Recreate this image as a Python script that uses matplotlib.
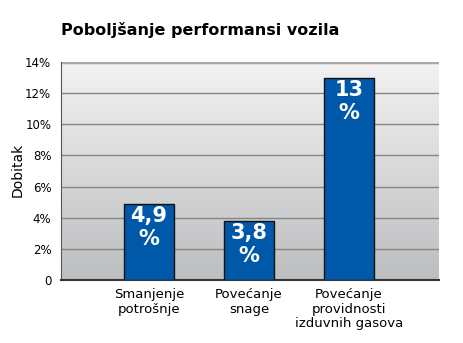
import numpy as np
import matplotlib.pyplot as plt
from matplotlib.colors import LinearSegmentedColormap

categories = ['Smanjenje\npotrošnje', 'Povećanje\nsnage', 'Povećanje\nprovidnosti\nizduvnih gasova']
values = [4.9, 3.8, 13.0]
bar_labels = ['4,9\n%', '3,8\n%', '13\n%']
yticks = [0, 2, 4, 6, 8, 10, 12, 14]
ytick_labels = ['0', '2%', '4%', '6%', '8%', '10%', '12%', '14%']

fig = plt.figure(figsize=(4.64, 3.43), dpi=100)
ax = fig.add_axes([61/464, 1 - 280/343, 378/464, 218/343])

x = np.arange(len(categories))
ax.set_xlim(-0.88, 2.9)
ax.set_ylim(0, 14)

# gradient background
grad = np.linspace(0, 1, 256).reshape(-1, 1)
cmap = LinearSegmentedColormap.from_list('g', ['#bdbec0', '#f2f2f2'])
ax.imshow(grad, extent=[-0.88, 2.9, 0, 14], aspect='auto', origin='lower',
          cmap=cmap, zorder=0)

for t in yticks[1:-1]:
    ax.axhline(t, color='#858585', lw=1, zorder=1)
ax.axhline(14, color='#a8a8a8', lw=2.5, zorder=1)

bars = ax.bar(x, values, width=0.5, color='#0058a9', edgecolor='#111111', lw=1, zorder=3)
for b, lab in zip(bars, bar_labels):
    ax.text(b.get_x() + b.get_width()/2, b.get_height() - 0.15, lab, color='white',
            ha='center', va='top', fontsize=15, fontweight='bold', linespacing=1.2, zorder=4)

ax.set_yticks(yticks)
ax.set_yticklabels(ytick_labels, fontsize=8.5)
ax.set_xticks(x)
ax.set_xticklabels(categories, fontsize=9.5, linespacing=1.15)
ax.tick_params(axis='both', length=0)
ax.tick_params(axis='x', pad=6)
ax.tick_params(axis='y', pad=7)
for s in ['top', 'right']:
    ax.spines[s].set_visible(False)
ax.spines['left'].set_color('#555555')
ax.spines['bottom'].set_color('#333333')
ax.spines['bottom'].set_linewidth(1.5)

fig.text(18/464, 1 - 170/343, 'Dobitak', fontsize=10, rotation=90, ha='center', va='center')
fig.text(61/464, 1 - 30/343, 'Poboljšanje performansi vozila', fontsize=11.5,
         fontweight='bold', va='center', ha='left')

plt.savefig('out.png', dpi=100)
plt.close()
